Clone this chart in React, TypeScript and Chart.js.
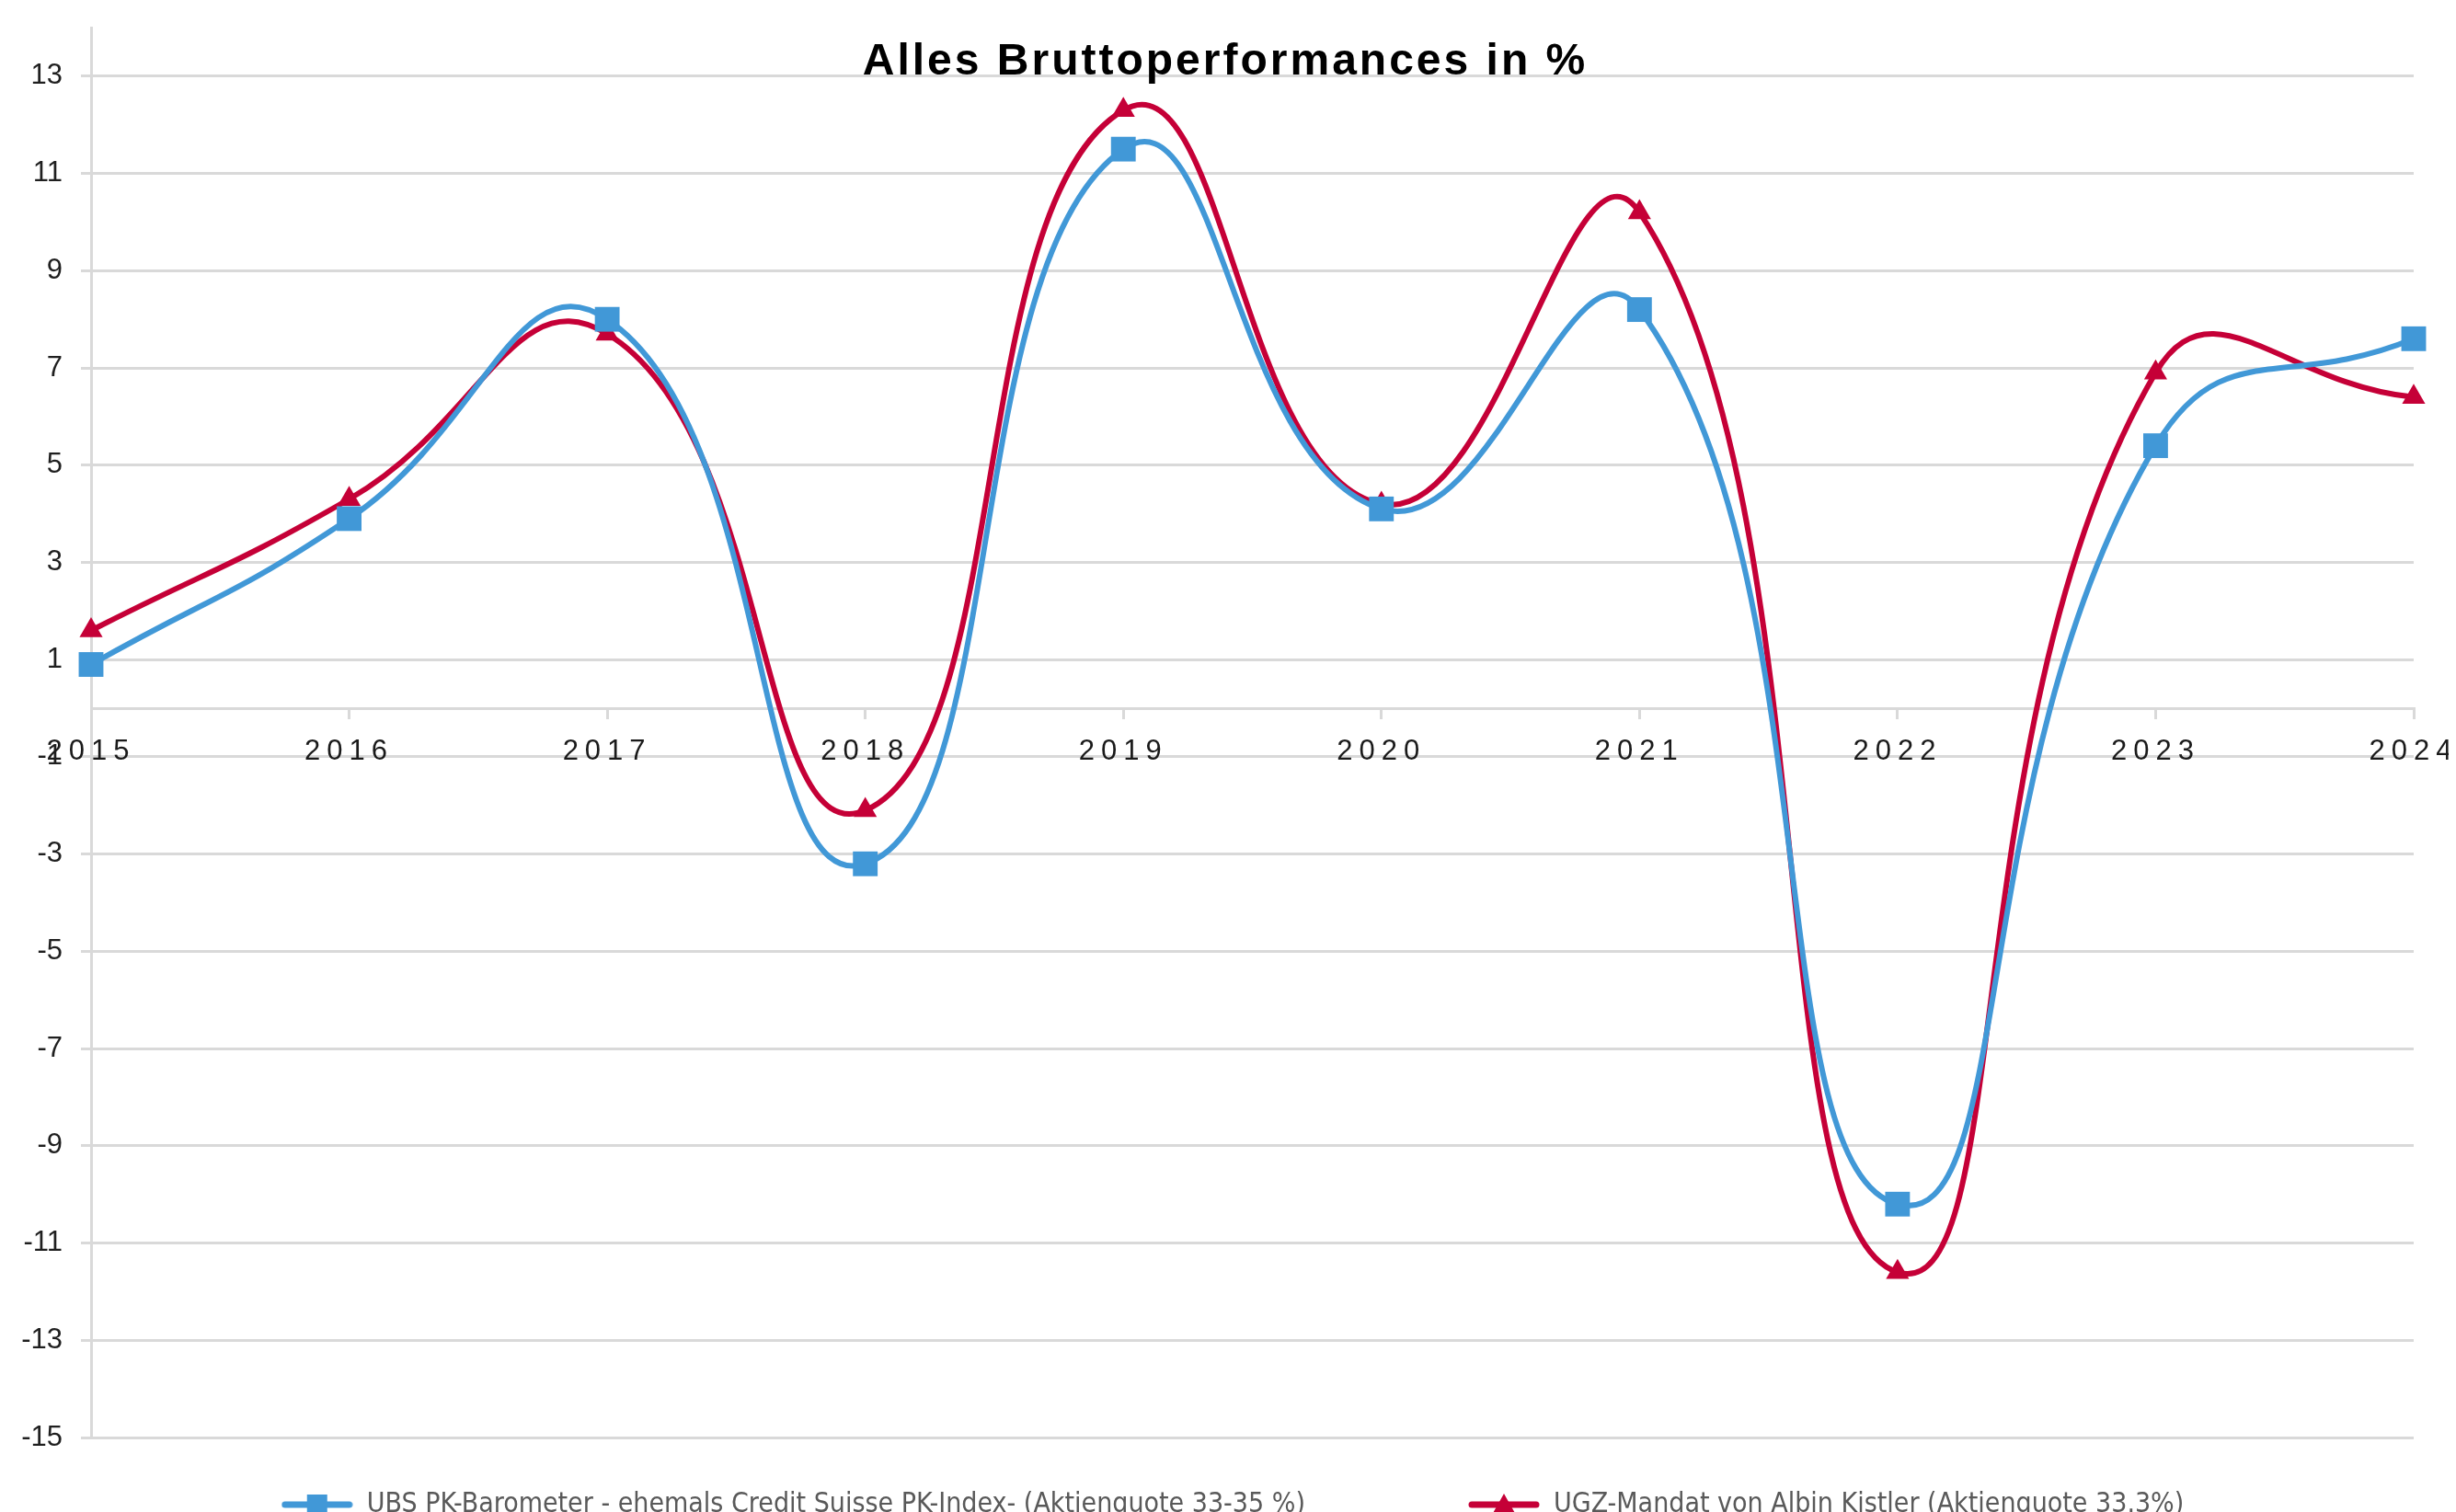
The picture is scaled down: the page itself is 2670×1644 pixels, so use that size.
import React, { useEffect, useRef } from 'react';
import { Chart, registerables } from 'chart.js';

Chart.register(...registerables);

// ---- data ----
const years = ['2015', '2016', '2017', '2018', '2019', '2020', '2021', '2022', '2023', '2024'];
const ubsValues = [0.9, 3.9, 8.0, -3.2, 11.5, 4.1, 8.2, -10.2, 5.4, 7.6];
const ugzValues = [1.6, 4.3, 7.7, -2.1, 12.3, 4.2, 10.2, -11.6, 6.9, 6.4];
const yTickValues = [-15, -13, -11, -9, -7, -5, -3, -1, 1, 3, 5, 7, 9, 11, 13];
const seriesNames = [
  'UBS PK-Barometer - ehemals Credit Suisse PK-Index- (Aktienquote 33-35 %)',
  'UGZ-Mandat von Albin Kistler (Aktienquote 33.3%)',
];
const titleText = 'Alles Bruttoperformances in %';

// ---- style ----
const BLUE = '#4198d7';
const RED = '#c50037';
const GRID = '#d9d9d9';
const NARROW = "'Liberation Sans Narrow', 'DejaVu Sans Condensed', sans-serif";
const REG = "'Liberation Sans', sans-serif";
const W = 2654;
const H = 1675;
const LEGEND_H = 120;
const LEGEND_GAP = 177;
const LEGEND_FONT = 30;

function legendIcon(color: string, shape: 'rect' | 'triangle'): HTMLCanvasElement {
  const c = document.createElement('canvas');
  c.width = 78;
  c.height = 28;
  const g = c.getContext('2d')!;
  g.strokeStyle = color;
  g.lineWidth = 7;
  g.lineCap = 'round';
  g.beginPath();
  g.moveTo(4, 14);
  g.lineTo(74, 14);
  g.stroke();
  g.fillStyle = color;
  if (shape === 'rect') {
    g.fillRect(28, 3, 22, 22);
  } else {
    g.beginPath();
    g.moveTo(39, 2);
    g.lineTo(52, 25);
    g.lineTo(26, 25);
    g.closePath();
    g.fill();
  }
  return c;
}

export default function App() {
  const ref = useRef<HTMLCanvasElement | null>(null);

  useEffect(() => {
    if (!ref.current) return;
    const icons = [legendIcon(BLUE, 'rect'), legendIcon(RED, 'triangle')];

    const layoutPlugin = {
      id: 'legendLayout',
      afterInit(chart: any) {
        const lg = chart.legend;
        if (!lg) return;
        const origFit = lg.fit;
        lg.fit = function () {
          origFit.call(this);
          if (this.isHorizontal()) this.height = LEGEND_H;
        };
        const origDraw = lg._draw;
        lg._draw = function () {
          const ctx = this.ctx;
          ctx.save();
          ctx.translate(24, 73 - LEGEND_GAP - LEGEND_FONT / 2);
          origDraw.call(this);
          ctx.restore();
        };
      },
    };

    const spacingPlugin = {
      id: 'spacing',
      beforeDraw(chart: any) {
        (chart.ctx as any).letterSpacing = '0px';
      },
      afterDatasetsDraw(chart: any) {
        (chart.ctx as any).letterSpacing = '7px';
      },
      afterDraw(chart: any) {
        const ctx = chart.ctx as any;
        ctx.letterSpacing = '0px';
        ctx.save();
        ctx.letterSpacing = '3px';
        ctx.font = "bold 48px 'Liberation Sans', sans-serif";
        ctx.fillStyle = '#000000';
        ctx.textAlign = 'center';
        ctx.textBaseline = 'alphabetic';
        ctx.fillText(titleText, chart.width / 2 - 3, 73);
        ctx.restore();
        ctx.letterSpacing = '0px';
      },
    };

    const chart = new Chart(ref.current, {
      type: 'line',
      data: {
        labels: years,
        datasets: [
          {
            label: seriesNames[0],
            data: ubsValues,
            borderColor: BLUE,
            backgroundColor: BLUE,
            borderWidth: 6,
            tension: 0.5,
            pointStyle: 'rect',
            pointRadius: 19,
            pointBorderWidth: 0,
            pointBackgroundColor: BLUE,
            clip: false as any,
          },
          {
            label: seriesNames[1],
            data: ugzValues,
            borderColor: RED,
            backgroundColor: RED,
            borderWidth: 6,
            tension: 0.5,
            pointStyle: 'triangle',
            pointRadius: 14.5,
            pointBorderWidth: 0,
            pointBackgroundColor: RED,
            clip: false as any,
          },
        ],
      },
      options: {
        animation: false,
        responsive: false,
        devicePixelRatio: 1,
        layout: { padding: { top: 22, left: 0, right: 38, bottom: 0 } },
        scales: {
          x: {
            type: 'category',
            offset: false,
            position: { y: 0 } as any,
            grid: {
              drawOnChartArea: false,
              drawTicks: true,
              tickLength: 10,
              color: GRID,
              lineWidth: 3,
            },
            border: { display: true, color: GRID, width: 3 },
            ticks: {
              z: 1,
              padding: 19,
              color: '#1a1a1a',
              maxRotation: 0,
              autoSkip: false,
              font: { family: REG, size: 31 },
            },
            afterFit(s: any) {
              s.paddingLeft = 0;
              s.paddingRight = 0;
            },
          },
          y: {
            type: 'linear',
            min: -15,
            max: 14,
            afterBuildTicks(s: any) {
              s.ticks = yTickValues.map((v) => ({ value: v }));
            },
            afterFit(s: any) {
              s.width = 91;
              s.paddingTop = 0;
              s.paddingBottom = 0;
            },
            grid: {
              color: GRID,
              lineWidth: 3,
              drawTicks: true,
              tickLength: 11,
            },
            border: { display: true, color: GRID, width: 3 },
            ticks: {
              padding: 20,
              color: '#1f1f1f',
              font: { family: REG, size: 31 },
            },
          },
        },
        plugins: {
          title: { display: false },
          tooltip: { enabled: false },
          legend: {
            display: true,
            position: 'bottom',
            labels: {
              usePointStyle: true,
              pointStyleWidth: 78,
              padding: LEGEND_GAP,
              color: '#595959',
              font: { family: NARROW, size: LEGEND_FONT },
              generateLabels(ch: any) {
                const items = Chart.defaults.plugins.legend.labels.generateLabels(ch);
                return items.map((it: any, i: number) => ({ ...it, pointStyle: icons[i] }));
              },
            },
          },
        },
      },
      plugins: [layoutPlugin, spacingPlugin],
    } as any);

    return () => chart.destroy();
  }, []);

  return (
    <div style={{ width: W, height: H }}>
      <canvas ref={ref} width={W} height={H} style={{ display: 'block' }} />
    </div>
  );
}
